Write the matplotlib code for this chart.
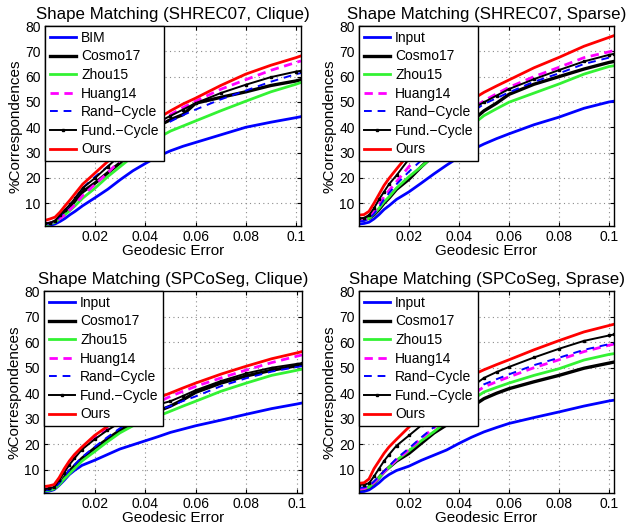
import matplotlib
matplotlib.use("Agg")
import matplotlib.pyplot as plt

plt.rcParams['font.family'] = ['Liberation Sans', 'DejaVu Sans']

x = [0, 0.002, 0.004, 0.006, 0.008, 0.01, 0.012, 0.015, 0.02, 0.025, 0.03, 0.035,
     0.04, 0.045, 0.05, 0.055, 0.06, 0.07, 0.08, 0.09, 0.1, 0.102]

titles = ["Shape Matching (SHREC07, Clique)", "Shape Matching (SHREC07, Sparse)",
          "Shape Matching (SPCoSeg, Clique)", "Shape Matching (SPCoSeg, Sprase)"]
first_labels = ["BIM", "Input", "Input", "Input"]
method_labels = ["Cosmo17", "Zhou15", "Huang14", "Rand\u2212Cycle", "Fund.\u2212Cycle", "Ours"]

# Panel 1: SHREC07, Clique
p1_base = [1.2, 1.3, 1.8, 2.8, 4, 5.5, 6.8, 9, 12.2, 15.5, 19.3, 22.8, 25.7, 28.5, 30.7, 32.5, 34, 37, 40, 42, 43.8, 44.2]
p1_cosmo = [1.8, 2, 2.8, 4.5, 6.5, 8.5, 11, 14.5, 18, 22, 26, 31, 36, 40.5, 43, 45, 49.5, 51.8, 54, 56.5, 58.3, 58.8]
p1_zhou = [1.5, 1.8, 2.5, 4, 5.5, 7.2, 9, 12, 16, 20.5, 24.5, 28.5, 32.5, 35.8, 38.5, 40.5, 42.5, 46.5, 50.3, 54, 57, 57.7]
p1_huang = [2, 2.2, 2.8, 4, 5.5, 7.5, 9.5, 13, 17.5, 22, 27, 32, 37, 41, 45, 47.8, 50.3, 55, 58.8, 62.5, 65.6, 66.2]
p1_rand = [1.8, 2, 2.8, 4.8, 7, 9.5, 12, 16, 20.5, 24.5, 28, 32, 36, 39.5, 42.3, 44.8, 47, 51, 54.5, 58, 61, 61.4]
p1_fund = [2, 2.3, 3, 5.5, 7.5, 9.5, 12, 16, 20, 24.5, 29, 33.5, 38, 42, 44.5, 47, 49.5, 53.5, 56.8, 59.8, 62, 62.3]
p1_ours = [3.2, 3.8, 4.5, 6.5, 9, 11.3, 13.8, 17.5, 22, 26.5, 31, 35.5, 39.5, 43.5, 46.5, 49.2, 51.5, 56.5, 61, 64.5, 67.5, 68.2]

# Panel 2: SHREC07, Sparse
p2_base = [1.8, 2, 2.5, 3.8, 5.5, 7.5, 9, 11.5, 14.5, 18, 21.6, 25, 28.2, 31, 33.4, 35.5, 37.4, 41, 44, 47.5, 50, 50.3]
p2_cosmo = [3.5, 3.7, 4, 5.5, 7.5, 10, 12, 15.5, 19.5, 24.5, 29, 33.5, 38, 42.3, 46.5, 49.5, 53, 57, 60, 63, 65.6, 66]
p2_zhou = [3, 3.2, 4, 5.8, 8, 10.5, 12.5, 16, 20.5, 24.5, 28.8, 32.8, 36.8, 40.7, 44.6, 47.3, 49.9, 53.5, 57.1, 61, 64, 64.3]
p2_huang = [3, 3.2, 4.2, 6.5, 9.5, 12.5, 15, 18.5, 24.5, 29.5, 34, 38.5, 43, 47, 50.5, 53.2, 55.8, 60, 63.7, 67.5, 69.8, 70.3]
p2_rand = [2.8, 3, 3.8, 5.8, 8.5, 11.5, 14, 17.5, 22.5, 27, 31.5, 36, 41, 45.9, 49.2, 51.5, 53.8, 58, 61.3, 65, 67.5, 67.9]
p2_fund = [4, 4.2, 5.3, 8, 11.5, 14.5, 17.5, 21, 27.5, 32, 36.5, 40.5, 44, 47.2, 49.9, 52.5, 55.1, 59, 62.6, 66, 68.6, 69]
p2_ours = [5.3, 5.5, 6.8, 10, 13.5, 17, 19.8, 23.5, 29.5, 34.5, 39, 43, 47, 50.8, 53.8, 56.3, 58.7, 63.5, 67.6, 72, 75.5, 76.2]

# Panel 3: SPCoSeg, Clique
p3_base = [1.5, 1.7, 2.3, 4, 6, 8.2, 9.8, 11.8, 13.8, 16, 18.2, 19.8, 21.4, 23, 24.7, 26, 27.3, 29.5, 31.8, 34, 35.8, 36.2]
p3_cosmo = [2, 2.2, 2.8, 4.5, 7, 9.5, 11.5, 14.5, 18.5, 22, 25.5, 28.3, 31, 33, 35, 37.5, 40.4, 44, 46.8, 49, 50.8, 51.2]
p3_zhou = [1.8, 2, 2.6, 4.2, 6.5, 8.5, 10.5, 13.5, 17.2, 21, 24.5, 27.2, 29.5, 31, 33, 35, 36.9, 40.8, 44, 47, 49, 49.4]
p3_huang = [2.5, 2.8, 3.3, 6, 9.5, 12.5, 15, 18.5, 22.5, 26, 29.2, 32, 34.5, 36.5, 38.8, 40.8, 42.7, 46, 49.1, 52, 54.5, 55]
p3_rand = [2, 2.2, 2.8, 4.8, 7.5, 10, 12, 15, 19, 22.8, 26.3, 29.2, 31.8, 33.5, 35, 37, 38.8, 42.8, 45.9, 48.5, 50.3, 50.6]
p3_fund = [2.5, 2.8, 3.3, 6, 9, 12, 14.5, 18, 22, 25.5, 28.5, 31.2, 33.5, 35.6, 36.9, 39, 41.2, 44.8, 47.8, 50, 51.5, 51.8]
p3_ours = [3.5, 3.8, 4.3, 7, 10.5, 13.5, 16, 19, 23.5, 27, 30, 33, 35.8, 38.2, 40.1, 42.1, 44, 47.5, 50.6, 53.5, 55.8, 56.3]

# Panel 4: SPCoSeg, Sprase
p4_base = [1.5, 1.6, 2.2, 3.5, 5, 6.8, 8.2, 9.8, 11.5, 13.8, 15.8, 17.8, 20.4, 22.8, 24.9, 26.6, 28.2, 30.5, 32.7, 35, 37, 37.3]
p4_cosmo = [2.5, 2.7, 3.3, 5, 7, 9.3, 11, 13.5, 16.5, 20.5, 24.5, 27.6, 31.2, 34.7, 37.9, 40, 41.8, 44.5, 47, 49.8, 51.8, 52.2]
p4_zhou = [2.5, 2.7, 3.3, 5, 7, 9, 11, 13.8, 17.5, 21.5, 25, 29, 33.5, 37.3, 40.5, 42.3, 44, 47, 49.6, 53, 55.2, 55.5]
p4_huang = [2.5, 2.8, 3.5, 5.2, 7.2, 9.2, 11.2, 14, 18, 22.5, 26.5, 31, 35.5, 39.3, 42.5, 44.5, 46.4, 50, 53.1, 56.3, 58.8, 59.2]
p4_rand = [3, 3.2, 3.8, 5.5, 7.5, 9.5, 11.5, 14.5, 18.5, 22.8, 26.8, 31.5, 36, 40, 43.5, 45.5, 47.4, 51, 53.9, 57, 59.2, 59.5]
p4_fund = [4.2, 4.3, 4.8, 7.5, 10.5, 13.5, 16, 19.5, 23.5, 27.5, 31.5, 35.5, 39.5, 42.5, 46, 48.3, 50.3, 54, 57.4, 60.5, 62.6, 63]
p4_ours = [4.8, 5, 6.5, 10.5, 13.5, 16.5, 19, 22, 26.8, 31.5, 35.5, 39.5, 43.5, 47, 49.2, 51.2, 53.1, 57, 60.6, 64, 66.5, 67]

panels = [
    [p1_base, p1_cosmo, p1_zhou, p1_huang, p1_rand, p1_fund, p1_ours],
    [p2_base, p2_cosmo, p2_zhou, p2_huang, p2_rand, p2_fund, p2_ours],
    [p3_base, p3_cosmo, p3_zhou, p3_huang, p3_rand, p3_fund, p3_ours],
    [p4_base, p4_cosmo, p4_zhou, p4_huang, p4_rand, p4_fund, p4_ours],
]

xticks = [0.02, 0.04, 0.06, 0.08, 0.1]
xticklabels = ["0.02", "0.04", "0.06", "0.08", "0.1"]
yticks = [10, 20, 30, 40, 50, 60, 70, 80]

styles = [
    dict(color=(0, 0, 1), lw=2.0, ls='-'),
    dict(color='black', lw=2.4, ls='-'),
    dict(color=(0.2, 0.95, 0.2), lw=2.0, ls='-'),
    dict(color=(1, 0, 1), lw=2.0, ls=(0, (3, 2))),
    dict(color=(0, 0, 1), lw=1.4, ls=(0, (4, 3))),
    dict(color='black', lw=1.4, ls='-', marker='s', markersize=2),
    dict(color=(1, 0, 0), lw=2.0, ls='-'),
]

W, H = 631, 531
fig = plt.figure(figsize=(W / 100, H / 100), dpi=100)

# pixel boxes: left, right, top, bottom
boxes = [(45, 301, 26, 226), (359, 614, 26, 226), (44, 302, 291, 493), (359, 614, 291, 493)]

for i, (l, r, t, b) in enumerate(boxes):
    ax = fig.add_axes([l / W, (H - b) / H, (r - l) / W, (b - t) / H])
    labels = [first_labels[i]] + method_labels
    for data, st, lab in zip(panels[i], styles, labels):
        ax.plot(x, data, label=lab, **st)
    ax.set_xlim(0, 0.102)
    ax.set_ylim(1, 80)
    ax.set_xticks(xticks)
    ax.set_xticklabels(xticklabels)
    ax.set_yticks(yticks)
    ax.tick_params(direction='in', length=3, labelsize=10, pad=3, top=True, right=True)
    ax.grid(True, linestyle=(0, (1, 3)), color=(0.55, 0.55, 0.55), lw=0.8)
    for s in ax.spines.values():
        s.set_linewidth(1.0)
    ax.set_title(titles[i], fontsize=12.2, pad=5)
    ax.set_xlabel("Geodesic Error", fontsize=11, labelpad=0)
    ax.set_ylabel("%Correspondences", fontsize=11, labelpad=2)
    leg = ax.legend(loc='upper left', bbox_to_anchor=(0, 1), borderaxespad=0,
                    fontsize=10, handlelength=1.9, handletextpad=0.35,
                    labelspacing=0.33, borderpad=0.35, fancybox=False,
                    framealpha=1, edgecolor='black')
    leg.get_frame().set_linewidth(1.0)

fig.savefig("out.png", dpi=100)
